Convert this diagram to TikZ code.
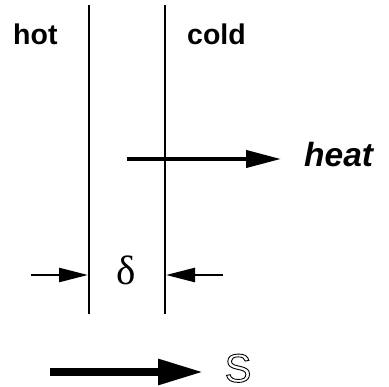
\documentclass[tikz,border=0pt]{standalone}
\usepackage{fontspec}
\setmainfont{Liberation Sans}
\newfontfamily\symserif{Liberation Serif}
\usetikzlibrary{arrows.meta}
\newcommand\outlinetext[1]{\special{pdf:code q 1 Tr 0.9 w}#1\special{pdf:code Q}}
\begin{document}
\begin{tikzpicture}[x=1pt,y=-1pt,
  wall/.style={line width=1.8pt},
  label/.style={inner sep=0pt,anchor=base west,font=\fontsize{28.5}{30}\selectfont\bfseries},
  heatarrow/.style={line width=4pt,-{Triangle[length=35pt,width=17pt]}},
  dimarrow/.style={line width=2.6pt,-{Triangle[length=29pt,width=14pt]}},
  sarrow/.style={line width=8.7pt,-{Triangle[length=46pt,width=24pt]}}]
\useasboundingbox (0,0) rectangle (389,387);
% walls
\coordinate (L1) at (89,5);  \coordinate (L2) at (89,314);
\coordinate (R1) at (165,5); \coordinate (R2) at (165,314);
\draw[wall] (L1) -- (L2);
\draw[wall] (R1) -- (R2);
% labels
\node[label] (hot) at (13,45) {hot};
\node[label] (cold) at (187,45) {cold};
\node[inner sep=0pt,anchor=base west,font=\fontsize{33.5}{35}\selectfont\bfseries\itshape] (heat) at (304,167) {heat};
% heat arrow
\coordinate (h0) at (127,159);
\coordinate (h1) at (281,159);
\draw[heatarrow] (h0) -- (h1);
% thickness
\node[inner sep=0pt,anchor=base,font=\symserif\fontsize{41}{43}\selectfont] (delta) at (126,285) {δ};
\coordinate (dl0) at (31,275); \coordinate (dl1) at (88,275);
\coordinate (dr0) at (223,275); \coordinate (dr1) at (166,275);
\draw[dimarrow] (dl0) -- (dl1);
\draw[dimarrow] (dr0) -- (dr1);
% S arrow
\coordinate (s0) at (50,372); \coordinate (s1) at (204,372);
\draw[sarrow] (s0) -- (s1);
\node[inner sep=0pt,anchor=base west,font=\fontsize{40}{42}\selectfont] (S) at (224.5,382) {\outlinetext{S}};
\end{tikzpicture}
\end{document}
